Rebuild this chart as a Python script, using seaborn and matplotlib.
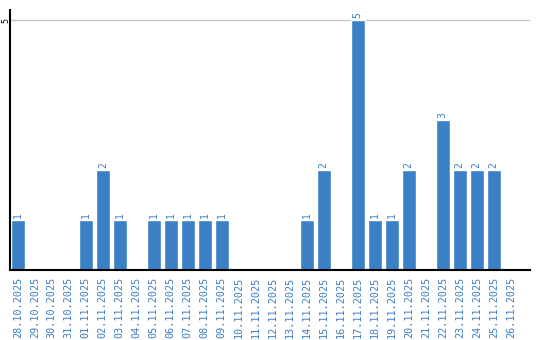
import matplotlib
matplotlib.use("Agg")
import matplotlib.pyplot as plt
import seaborn as sns
import pandas as pd

dates = ["28.10.2025", "29.10.2025", "30.10.2025", "31.10.2025", "01.11.2025",
         "02.11.2025", "03.11.2025", "04.11.2025", "05.11.2025", "06.11.2025",
         "07.11.2025", "08.11.2025", "09.11.2025", "10.11.2025", "11.11.2025",
         "12.11.2025", "13.11.2025", "14.11.2025", "15.11.2025", "16.11.2025",
         "17.11.2025", "18.11.2025", "19.11.2025", "20.11.2025", "21.11.2025",
         "22.11.2025", "23.11.2025", "24.11.2025", "25.11.2025", "26.11.2025"]
counts = [1, 0, 0, 0, 1, 2, 1, 0, 1, 1, 1, 1, 1, 0, 0, 0, 0, 1, 2, 0,
          5, 1, 1, 2, 0, 3, 2, 2, 2, 0]
y_ticks = [5]

BLUE = "#3b7fc4"

sns.set_theme(style="white")
plt.rcParams['font.family'] = ['DejaVu Sans Mono', 'DejaVu Sans']

df = pd.DataFrame({"date": dates, "count": counts})

fig = plt.figure(figsize=(5.4, 3.4), dpi=100)
ax = fig.add_axes([10/540, 70/340, 520/540, 260/340])
sns.barplot(data=df, x="date", y="count", color=BLUE, saturation=1, width=0.82, ax=ax)

ax.set_ylim(0, 5.2)
ax.set_xlim(-0.46, 30.13)
ax.set_yticks(y_ticks)
ax.set_yticklabels([str(t) for t in y_ticks], rotation=90, va="center", fontsize=6, color="black")
ax.tick_params(axis="y", length=0, pad=-0.5)
ax.tick_params(axis="x", length=0, pad=5)
ax.set_xticks(range(len(dates)))
ax.set_xticklabels(dates, rotation=90, fontsize=7.3, color=BLUE, va="top", ha="center")
ax.set_xlabel("")
ax.set_ylabel("")
for t in y_ticks:
    ax.axhline(t, color="#c8c8c8", lw=1, zorder=0)

for s in ["top", "right"]:
    ax.spines[s].set_visible(False)
for s in ["left", "bottom"]:
    ax.spines[s].set_visible(True)
    ax.spines[s].set_color("black")
    ax.spines[s].set_linewidth(1.5)

for i, v in enumerate(counts):
    if v > 0:
        ax.text(i, v + 0.04, str(v), rotation=90, ha="center", va="bottom",
                fontsize=7, color=BLUE)

fig.savefig("out.png", dpi=100)
